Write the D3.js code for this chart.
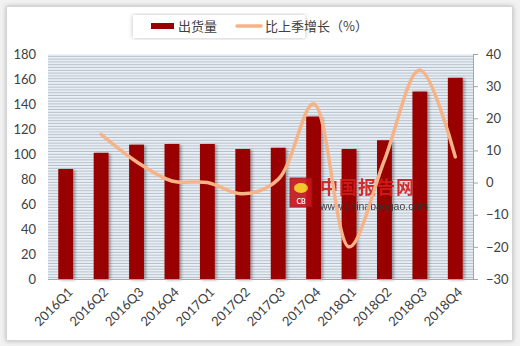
<!DOCTYPE html>
<html>
<head>
<meta charset="utf-8">
<script src="https://cdn.jsdelivr.net/npm/d3@7/dist/d3.min.js"></script>
<style>
  html, body { margin: 0; padding: 0; background: #f2f2f2; }
  svg { display: block; }
</style>
</head>
<body>
<div id="chart"></div>
<script>
// quarters
var categories = ["2016Q1", "2016Q2", "2016Q3", "2016Q4", "2017Q1", "2017Q2",
  "2017Q3", "2017Q4", "2018Q1", "2018Q2", "2018Q3", "2018Q4"];
// 出货量
var shipments = [88, 101, 107.5, 108, 108, 104, 105, 130, 104, 111, 150, 161];
// 比上季增长（%）, no value for the first quarter
var growth = [null, 15, 6.5, 0.5, 0, -3.5, 1, 24.5, -20, 7, 35, 8];
var leftTicks = [0, 20, 40, 60, 80, 100, 120, 140, 160, 180];
var rightTicks = [-30, -20, -10, 0, 10, 20, 30, 40];

var width = 520, height = 346;
var plot = {left: 48, right: 473, top: 54, bottom: 279};
var barColor = "#990000", lineColor = "#f7b388";
var numFont = "Lato, 'Open Sans', sans-serif";
var cjkFont = "'Noto Sans CJK SC', 'Noto Sans', sans-serif";

var svg = d3.select("#chart").append("svg")
  .attr("width", width).attr("height", height);

var defs = svg.append("defs");

var frameShadow = defs.append("filter").attr("id", "frameShadow")
  .attr("x", "-5%").attr("y", "-5%").attr("width", "110%").attr("height", "110%");
frameShadow.append("feDropShadow")
  .attr("dx", 0).attr("dy", 0).attr("stdDeviation", 2.5)
  .attr("flood-color", "#000").attr("flood-opacity", 0.25);

var barShadow = defs.append("filter").attr("id", "barShadow")
  .attr("x", "-30%").attr("y", "-10%").attr("width", "180%").attr("height", "130%");
barShadow.append("feDropShadow")
  .attr("dx", 2).attr("dy", 1).attr("stdDeviation", 1.6)
  .attr("flood-color", "#000").attr("flood-opacity", 0.35);

var stripes = defs.append("pattern").attr("id", "stripes")
  .attr("patternUnits", "userSpaceOnUse")
  .attr("x", 0).attr("y", plot.top).attr("width", 8).attr("height", 2.8);
stripes.append("rect").attr("width", 8).attr("height", 2.8).attr("fill", "#eaf0f6");
stripes.append("rect").attr("y", 1.8).attr("width", 8).attr("height", 1).attr("fill", "#b5bfca");

// outer frame
svg.append("rect")
  .attr("x", 6.5).attr("y", 6.5).attr("width", 506).attr("height", 334)
  .attr("fill", "#fff").attr("stroke", "#d4d4d4")
  .attr("filter", "url(#frameShadow)");

var x = d3.scaleBand().domain(categories)
  .range([plot.left, plot.right]).paddingInner(0.58).paddingOuter(0.29);
var yLeft = d3.scaleLinear().domain([0, 180]).range([plot.bottom, plot.top]);
var yRight = d3.scaleLinear().domain([-30, 40]).range([plot.bottom, plot.top]);

// plot background
svg.append("rect")
  .attr("x", plot.left).attr("y", plot.top)
  .attr("width", plot.right - plot.left).attr("height", plot.bottom - plot.top)
  .attr("fill", "url(#stripes)");

// left axis (labels only)
var leftAxis = svg.append("g")
  .attr("transform", "translate(" + plot.left + ",0)")
  .call(d3.axisLeft(yLeft).tickValues(leftTicks).tickSize(0).tickPadding(12));
leftAxis.select(".domain").remove();

// right axis
var rightAxis = svg.append("g")
  .attr("transform", "translate(" + plot.right + ",0)")
  .call(d3.axisRight(yRight).tickValues(rightTicks).tickSize(5).tickPadding(8)
    .tickFormat(d3.format("d")));
rightAxis.select(".domain").attr("stroke", "#a6a6a6");
rightAxis.selectAll(".tick line").attr("stroke", "#a6a6a6");

svg.selectAll(".tick text")
  .attr("fill", "#404040")
  .style("font-family", numFont)
  .style("font-size", "13px");

// bars
svg.append("g").selectAll("rect")
  .data(shipments).enter().append("rect")
  .attr("x", function (d, i) {
    return x(categories[i]);
  })
  .attr("y", function (d) {
    return yLeft(d);
  })
  .attr("width", x.bandwidth())
  .attr("height", function (d) {
    return yLeft(0) - yLeft(d);
  })
  .attr("fill", barColor)
  .attr("filter", "url(#barShadow)");

// bottom axis line
svg.append("line")
  .attr("x1", plot.left).attr("x2", plot.right)
  .attr("y1", plot.bottom + 0.5).attr("y2", plot.bottom + 0.5)
  .attr("stroke", "#a6a6a6");

// category labels
svg.append("g").selectAll("text")
  .data(categories).enter().append("text")
  .attr("transform", function (d) {
    var cx = x(d) + x.bandwidth() / 2;
    return "translate(" + (cx + 8) + "," + (plot.bottom + 14) + ") rotate(-45)";
  })
  .attr("text-anchor", "end")
  .attr("fill", "#404040")
  .style("font-family", numFont)
  .style("font-size", "13px")
  .text(function (d) {
    return d;
  });

// watermark
var wm = svg.append("g").attr("opacity", 0.9);
wm.append("rect").attr("x", 290).attr("y", 178).attr("width", 22).attr("height", 29)
  .attr("fill", "#c8141c").attr("stroke", "#a01010");
wm.append("ellipse").attr("cx", 301).attr("cy", 188).attr("rx", 7).attr("ry", 5)
  .attr("fill", "#f5c518");
wm.append("text").attr("x", 301).attr("y", 204).attr("text-anchor", "middle")
  .attr("fill", "#fff").style("font-family", numFont).style("font-size", "7px")
  .style("font-weight", "bold").text("CB");
wm.append("text").attr("x", 320).attr("y", 194)
  .attr("fill", "#d41a1a")
  .style("font-family", cjkFont).style("font-size", "18px").style("font-weight", "bold")
  .style("letter-spacing", "1px")
  .text("中国报告网");
wm.append("text").attr("x", 320).attr("y", 210)
  .attr("fill", "#333")
  .style("font-family", "'Liberation Sans', Arial, sans-serif").style("font-size", "10.5px")
  .text("www.chinabaogao.com");

// growth line
var line = d3.line()
  .defined(function (d) {
    return d != null;
  })
  .x(function (d, i) {
    return x(categories[i]) + x.bandwidth() / 2;
  })
  .y(function (d) {
    return yRight(d);
  })
  .curve(d3.curveCatmullRom.alpha(0.5));

svg.append("path")
  .datum(growth)
  .attr("d", line)
  .attr("fill", "none")
  .attr("stroke", lineColor)
  .attr("stroke-width", 3.5)
  .attr("stroke-linecap", "round");

// legend
var legend = svg.append("g");
legend.append("rect")
  .attr("x", 133).attr("y", 15).attr("width", 172).attr("height", 23)
  .attr("fill", "#fff").attr("filter", "url(#frameShadow)");
legend.append("rect")
  .attr("x", 151).attr("y", 23).attr("width", 23).attr("height", 6)
  .attr("fill", barColor);
legend.append("text")
  .attr("x", 178).attr("y", 31)
  .attr("fill", "#404040").style("font-family", cjkFont).style("font-size", "13px")
  .text("出货量");
legend.append("line")
  .attr("x1", 237).attr("x2", 261).attr("y1", 26).attr("y2", 26)
  .attr("stroke", lineColor).attr("stroke-width", 3.5).attr("stroke-linecap", "round");
legend.append("text")
  .attr("x", 265).attr("y", 31)
  .attr("fill", "#404040").style("font-family", cjkFont).style("font-size", "13px")
  .text("比上季增长（%）");
</script>
</body>
</html>
